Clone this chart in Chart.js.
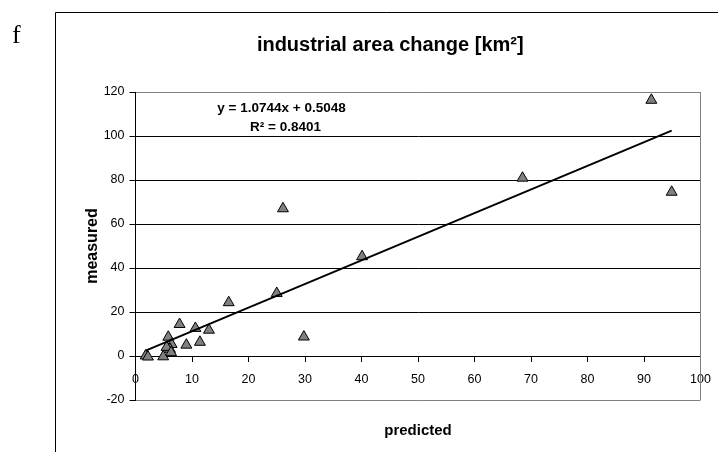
<!DOCTYPE html>
<html>
<head>
<meta charset="utf-8">
<script src="https://cdn.jsdelivr.net/npm/chart.js@4/dist/chart.umd.min.js"></script>
<style>
  html, body { margin: 0; padding: 0; background: #fff; }
  #wrap { position: relative; width: 718px; height: 452px; }
</style>
</head>
<body>
<div id="wrap"><canvas id="c"></canvas></div>
<script>
// Predicted vs. measured industrial area change (km²)
const predicted = [91.3, 94.9, 68.5, 40.1, 26.1, 25.0, 29.8, 16.5, 13.0, 10.6, 7.8, 11.4, 9.0, 5.8, 6.4, 6.1, 5.5, 6.3, 4.9, 1.8, 2.2];
const measured  = [116.3, 74.5, 80.9, 45.2, 67.0, 28.5, 8.7, 24.3, 11.8, 12.6, 14.4, 6.3, 5.0, 8.6, 5.3, 3.1, 4.0, 1.6, -0.3, 0.1, -0.4];

// Linear trend reported on the chart
const slope = 1.0744;
const intercept = 0.5048;
const rSquared = 0.8401;

const xTickValues = [0, 10, 20, 30, 40, 50, 60, 70, 80, 90, 100];
const yTickValues = [-20, 0, 20, 40, 60, 80, 100, 120];

const chartTitle = 'industrial area change [km²]';
const xTitle = 'predicted';
const yTitle = 'measured';
const panelLetter = 'f';

const FONT = "'Liberation Sans', Arial, Helvetica, sans-serif";

const points = predicted.map((p, i) => ({ x: p, y: measured[i] }));
const xMin = Math.min(...predicted);
const xMax = Math.max(...predicted);
const trend = [xMin, xMax].map(x => ({ x: x, y: slope * x + intercept }));

const fmt = v => v.toFixed(4);

// Outer frame, panel letter, plot border and regression text
const decorations = {
  id: 'decorations',
  beforeDraw(chart) {
    const ctx = chart.ctx;
    ctx.save();
    ctx.fillStyle = '#fff';
    ctx.fillRect(0, 0, chart.width, chart.height);
    ctx.strokeStyle = '#000';
    ctx.lineWidth = 1;
    ctx.beginPath();
    ctx.moveTo(55.5, chart.height);
    ctx.lineTo(55.5, 12.5);
    ctx.lineTo(chart.width, 12.5);
    ctx.stroke();
    ctx.fillStyle = '#000';
    ctx.font = "26px 'Liberation Serif', 'Times New Roman', serif";
    ctx.textBaseline = 'alphabetic';
    ctx.textAlign = 'left';
    ctx.fillText(panelLetter, 12, 43);
    ctx.restore();
  },
  beforeDatasetsDraw(chart) {
    const { ctx, chartArea } = chart;
    ctx.save();
    ctx.strokeStyle = '#808080';
    ctx.lineWidth = 1;
    ctx.beginPath();
    ctx.moveTo(Math.round(chartArea.right) - 0.5, chartArea.top);
    ctx.lineTo(Math.round(chartArea.right) - 0.5, chartArea.bottom);
    ctx.stroke();
    ctx.restore();
  },
  afterDraw(chart) {
    const { ctx, chartArea } = chart;
    ctx.save();
    ctx.fillStyle = '#000';
    ctx.font = 'bold 13.5px ' + FONT;
    ctx.textAlign = 'center';
    ctx.textBaseline = 'middle';
    ctx.fillText('y = ' + fmt(slope) + 'x + ' + fmt(intercept), chartArea.left + 146, 108);
    ctx.fillText('R² = ' + fmt(rSquared), chartArea.left + 150, 127);
    ctx.restore();
  }
};

new Chart(document.getElementById('c'), {
  type: 'scatter',
  data: {
    datasets: [
      {
        label: 'trend',
        data: trend,
        showLine: true,
        borderColor: '#000',
        borderWidth: 2,
        pointRadius: 0,
        fill: false
      },
      {
        label: 'measured',
        data: points,
        pointStyle: 'triangle',
        pointRadius: 6.3,
        backgroundColor: '#808080',
        borderColor: '#000',
        borderWidth: 1
      }
    ]
  },
  options: {
    responsive: true,
    maintainAspectRatio: false,
    animation: false,
    layout: { padding: { left: 80, right: 17.5, top: 0, bottom: 0 } },
    plugins: {
      legend: { display: false },
      tooltip: { enabled: false },
      title: {
        display: true,
        text: chartTitle,
        color: '#000',
        font: { family: FONT, size: 20, weight: 'bold' },
        padding: { top: 33, bottom: 35 }
      }
    },
    scales: {
      x: {
        type: 'linear',
        position: { y: 0 },
        min: 0,
        max: 100,
        afterBuildTicks: s => { s.ticks = xTickValues.map(v => ({ value: v })); },
        ticks: {
          color: '#000',
          font: { family: FONT, size: 12.5 },
          padding: 11,
          autoSkip: false,
          maxRotation: 0
        },
        grid: { drawOnChartArea: false, drawTicks: true, tickLength: 5, color: '#000' },
        border: { display: true, color: '#000', width: 1 },
        // end labels may overhang the plot edges; keep the plot width fixed
        afterFit: s => { s.paddingLeft = 0; s.paddingRight = 0; }
      },
      x2: {
        type: 'linear',
        axis: 'x',
        position: 'bottom',
        min: 0,
        max: 100,
        ticks: { display: false },
        grid: { display: false },
        border: { display: false },
        title: {
          display: true,
          text: xTitle,
          color: '#000',
          font: { family: FONT, size: 15, weight: 'bold' },
          padding: { top: 0, bottom: 12 }
        },
        afterFit: s => { s.height = 52; }
      },
      y: {
        type: 'linear',
        position: 'left',
        min: -20,
        max: 120,
        afterBuildTicks: s => { s.ticks = yTickValues.map(v => ({ value: v })); },
        ticks: {
          color: '#000',
          font: { family: FONT, size: 12.5 },
          padding: 5
        },
        grid: {
          drawTicks: true,
          tickLength: 6,
          tickColor: '#000',
          color: c => (c.tick && (c.tick.value === 120 || c.tick.value === -20)) ? '#808080' : '#000'
        },
        border: { display: true, color: '#000', width: 1 },
        title: {
          display: true,
          text: yTitle,
          color: '#000',
          font: { family: FONT, size: 16, weight: 'bold' },
          padding: { top: 3, bottom: 0 }
        },
        afterFit: s => { s.width = 55.5; }
      }
    }
  },
  plugins: [decorations]
});
</script>
</body>
</html>
